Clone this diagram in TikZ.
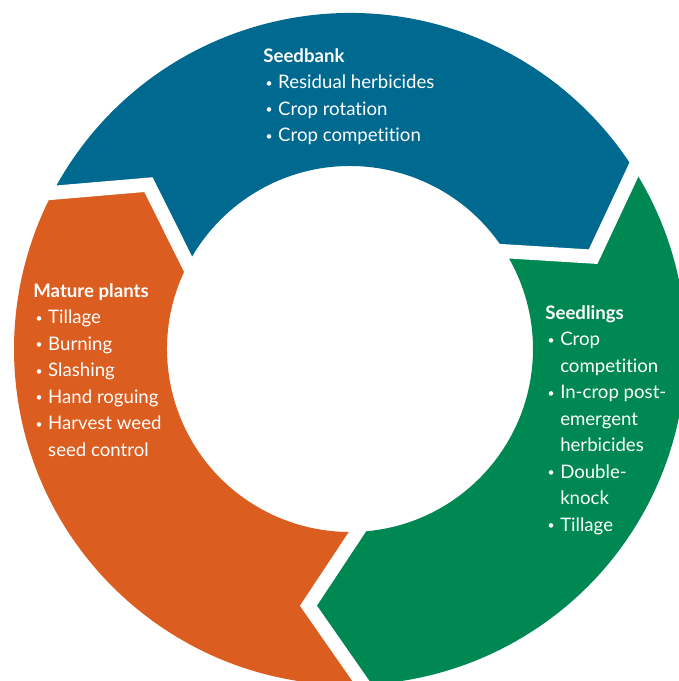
\documentclass[tikz,border=0pt]{standalone}
\usepackage{fontspec}
\setmainfont{Lato}[Ligatures=NoCommon]
\usepackage{tikz}
\usetikzlibrary{calc}
\definecolor{bankblue}{HTML}{00698F}
\definecolor{seedgreen}{HTML}{008853}
\definecolor{matureorange}{HTML}{DC5D20}
% bullet item and continued line
\newcommand{\itm}[1]{\makebox[0.8em][l]{\hspace{0.12em}\raisebox{0.08em}{\scalebox{0.65}{\textbullet}}}#1}
\newcommand{\cnt}[1]{\hspace{0.8em}#1}
\tikzset{
    %Define style for the white gaps between the segments
    gapline/.style={
             white,
             line width=0.28cm,
             line join=miter},
    %Define style for the text blocks
    stagetext/.style={
             anchor=north west,
             inner sep=0pt,
             align=left,
             text=white,
             font=\fontsize{10.6}{15.1}\selectfont}
}

\begin{document}
\begin{tikzpicture}[scale=0.02]
 \useasboundingbox (-350,-332) rectangle (328,349);
 % ring segments
 \fill[bankblue] (152.3:336) arc[start angle=152.3, end angle=32.3, radius=336]
       -- (20.8:260) -- (32.3:183) arc[start angle=32.3, end angle=152.3, radius=183]
       -- (140.8:260) -- cycle;
 \fill[seedgreen] (32.3:336) arc[start angle=32.3, end angle=-87.7, radius=336]
       -- (-99.2:260) -- (-87.7:183) arc[start angle=-87.7, end angle=32.3, radius=183]
       -- (20.8:260) -- cycle;
 \fill[matureorange] (272.3:336) arc[start angle=272.3, end angle=152.3, radius=336]
       -- (140.8:260) -- (152.3:183) arc[start angle=152.3, end angle=272.3, radius=183]
       -- (260.8:260) -- cycle;
 % gaps
 \coordinate (tipa) at (140.8:260);
 \coordinate (tipb) at (20.8:260);
 \coordinate (tipc) at (-99.2:260);
 \draw[gapline] ($(tipa)!1.3!(152.3:336)$) -- (tipa) -- ($(tipa)!1.3!(152.3:183)$);
 \draw[gapline] ($(tipb)!1.3!(32.3:336)$) -- (tipb) -- ($(tipb)!1.3!(32.3:183)$);
 \draw[gapline] ($(tipc)!1.3!(-87.7:336)$) -- (tipc) -- ($(tipc)!1.3!(-87.7:183)$);
 % texts
 \node[stagetext] (seedbank) at (-87,301) {\textbf{Seedbank}\\
       \itm{Residual herbicides}\\ \itm{Crop rotation}\\ \itm{Crop competition}};
 \node[stagetext] (seedlings) at (195,44) {\textbf{Seedlings}\\
       \itm{Crop}\\ \cnt{competition}\\ \itm{In-crop post-}\\ \cnt{emergent}\\
       \cnt{herbicides}\\ \itm{Double-}\\ \cnt{knock}\\ \itm{Tillage}};
 \node[stagetext] (mature) at (-317,66) {\textbf{Mature plants}\\
       \itm{Tillage}\\ \itm{Burning}\\ \itm{Slashing}\\ \itm{Hand roguing}\\
       \itm{Harvest weed}\\ \cnt{seed control}};
\end{tikzpicture}
\end{document}
